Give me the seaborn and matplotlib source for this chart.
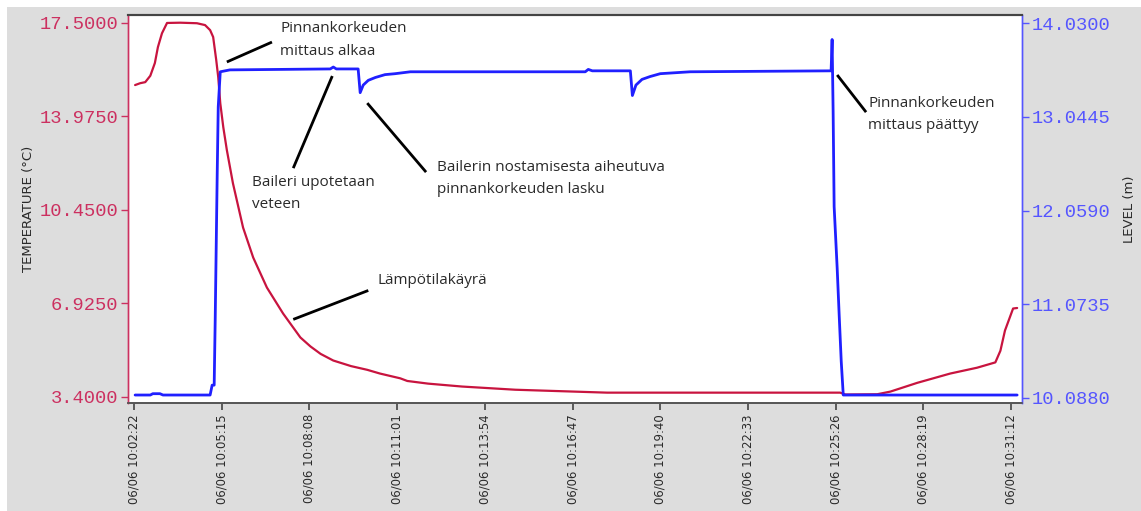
import matplotlib
matplotlib.use("Agg")
import matplotlib.pyplot as plt
import matplotlib.patches as mpatches
import seaborn as sns
import pandas as pd

# ---------------- data ----------------
DAY = "2020-06-06 "

temp_times = ["10:02:24", "10:02:34", "10:02:44", "10:02:54", "10:03:03", "10:03:09",
              "10:03:17", "10:03:27", "10:03:53", "10:04:26", "10:04:42", "10:04:52",
              "10:04:58", "10:05:04", "10:05:08", "10:05:12", "10:05:18", "10:05:25",
              "10:05:37", "10:05:57", "10:06:17", "10:06:44", "10:07:16", "10:07:50",
              "10:08:10", "10:08:30", "10:08:55", "10:09:30", "10:10:02", "10:10:27",
              "10:11:07", "10:11:21", "10:12:02", "10:13:09", "10:14:54", "10:17:55",
              "10:25:35", "10:25:45", "10:26:48", "10:27:14", "10:28:07", "10:29:12",
              "10:30:05", "10:30:41", "10:30:51", "10:31:00", "10:31:16", "10:31:24"]
temp_values = [15.15, 15.22, 15.26, 15.50, 15.98, 16.58,
               17.10, 17.49, 17.50, 17.48, 17.41, 17.22,
               16.96, 16.10, 15.45, 14.47, 13.56, 12.70,
               11.45, 9.78, 8.65, 7.52, 6.54, 5.64,
               5.30, 5.02, 4.77, 4.56, 4.42, 4.28,
               4.10, 4.00, 3.90, 3.79, 3.67, 3.56,
               3.56, 3.49, 3.50, 3.60, 3.93, 4.28,
               4.50, 4.70, 5.14, 5.90, 6.73, 6.75]

level_times = ["10:02:24", "10:02:54", "10:02:59", "10:03:13", "10:03:19", "10:04:52",
               "10:04:56", "10:05:00", "10:05:02", "10:05:06", "10:05:08", "10:05:12",
               "10:05:31", "10:08:49", "10:08:55", "10:09:01", "10:09:44", "10:09:48",
               "10:09:54", "10:10:04", "10:10:18", "10:10:37", "10:10:57", "10:11:27",
               "10:17:12", "10:17:18", "10:17:26", "10:18:41", "10:18:45", "10:18:52",
               "10:19:04", "10:19:20", "10:19:40", "10:20:39", "10:25:17", "10:25:19",
               "10:25:21", "10:25:23", "10:25:29", "10:25:33", "10:25:37", "10:25:41",
               "10:31:24"]
level_values = [10.116, 10.116, 10.13, 10.13, 10.116, 10.116,
                10.22, 10.22, 10.90, 12.45, 13.15, 13.52,
                13.54, 13.55, 13.57, 13.55, 13.55, 13.30,
                13.38, 13.43, 13.46, 13.49, 13.50, 13.52,
                13.52, 13.545, 13.53, 13.53, 13.27, 13.38,
                13.44, 13.47, 13.50, 13.52, 13.53, 13.86,
                13.10, 12.10, 11.45, 10.95, 10.47, 10.116,
                10.116]

tick_times = ["10:02:22", "10:05:15", "10:08:08", "10:11:01", "10:13:54", "10:16:47",
              "10:19:40", "10:22:33", "10:25:26", "10:28:19", "10:31:12"]
temp_ticks = [3.4, 6.925, 10.45, 13.975, 17.5]
level_ticks = [10.088, 11.0735, 12.059, 13.0445, 14.03]

# annotations: (text, text time, text temp, line start time, line start temp, line end time, line end temp)
notes = [
    ("Pinnankorkeuden\nmittaus alkaa", "10:07:10", 16.85, "10:05:25", 16.02, "10:06:54", 16.77),
    ("Baileri upotetaan\nveteen", "10:06:15", 11.07, "10:07:36", 12.02, "10:08:53", 15.49),
    ("Bailerin nostamisesta aiheutuva\npinnankorkeuden lasku", "10:12:20", 11.64,
     "10:10:02", 14.47, "10:11:58", 11.87),
    ("Lämpötilakäyrä", "10:10:23", 7.79, "10:07:36", 6.32, "10:10:04", 7.41),
    ("Pinnankorkeuden\nmittaus päättyy", "10:26:30", 14.05, "10:25:29", 15.53, "10:26:26", 14.13),
]

# ---------------- style ----------------
sns.set_theme(style="white")
plt.rcParams["font.family"] = ["DejaVu Sans"]

T_COL = "#c8143f"
T_LAB = "#cc3060"
L_COL = "#2020ff"
L_LAB = "#5555ff"
BG = "#dddddd"
TXT = "#2a2a2a"

def ts(s):
    return pd.Timestamp(DAY + s)

temp_df = pd.DataFrame({"time": [ts(t) for t in temp_times], "temp": temp_values})
level_df = pd.DataFrame({"time": [ts(t) for t in level_times], "level": level_values})

fig = plt.figure(figsize=(11.41, 5.11), dpi=100)
fig.patch.set_facecolor("white")
fig.patches.append(mpatches.Rectangle((7 / 1141, 0), 1, 1 - 7 / 511,
                                      transform=fig.transFigure, facecolor=BG,
                                      edgecolor="none", zorder=-10))

ax = fig.add_axes([128 / 1141, 1 - 403 / 511, (1021.7 - 128) / 1141, (403 - 15) / 511])
ax.set_facecolor("white")
ax2 = ax.twinx()

sns.lineplot(data=temp_df, x="time", y="temp", ax=ax, color=T_COL, linewidth=1.6,
             estimator=None, sort=False)
sns.lineplot(data=level_df, x="time", y="level", ax=ax2, color=L_COL, linewidth=2.0,
             estimator=None, sort=False)

ax.set_xlim(ts("10:02:10"), ts("10:31:33"))
ax.set_ylim(3.17, 17.79)
ax2.set_ylim(10.032, 14.118)

ax.set_xticks([ts(t) for t in tick_times])
ax.set_xticklabels(["06/06 " + t for t in tick_times], rotation=90,
                   fontsize=8.4, color=TXT)
ax.set_yticks(temp_ticks)
ax.set_yticklabels([f"{v:.4f}" for v in temp_ticks], family="Liberation Mono",
                   fontsize=13.5, color=T_LAB)
ax2.set_yticks(level_ticks)
ax2.set_yticklabels([f"{v:.4f}" for v in level_ticks], family="Liberation Mono",
                    fontsize=13.5, color=L_LAB)

ax.tick_params(axis="x", bottom=True, length=5, width=1.2, color="#444444", pad=3)
ax.tick_params(axis="y", left=True, length=5, width=1, color=T_LAB, pad=2)
ax2.tick_params(axis="y", right=True, length=5, width=1, color=L_LAB, pad=2)

ax.set_xlabel("")
ax.set_ylabel("TEMPERATURE (°C)", fontsize=9.5, color=TXT, labelpad=3)
ax2.set_ylabel("LEVEL (m)", fontsize=9.5, color=TXT, rotation=90, labelpad=9)

for a in (ax, ax2):
    a.spines["top"].set_color("#444444")
    a.spines["top"].set_linewidth(1.5)
    a.spines["bottom"].set_color("#555555")
    a.spines["bottom"].set_linewidth(1.2)
    a.spines["left"].set_color(T_LAB)
    a.spines["right"].set_color(L_LAB)
    a.spines["left"].set_linewidth(1)
    a.spines["right"].set_linewidth(1)
    a.grid(False)

for text, tt, tv, x0, y0, x1, y1 in notes:
    ax2.plot([ts(x0), ts(x1)], [y0, y1], transform=ax.transData, color="black",
             linewidth=2.0, zorder=5, solid_capstyle="butt")
    ax2.text(ts(tt), tv, text, transform=ax.transData, fontsize=11,
             family="Open Sans", color=TXT, va="center", ha="left",
             linespacing=1.65, zorder=6)

fig.savefig("out.png", dpi=100, facecolor=fig.get_facecolor())
